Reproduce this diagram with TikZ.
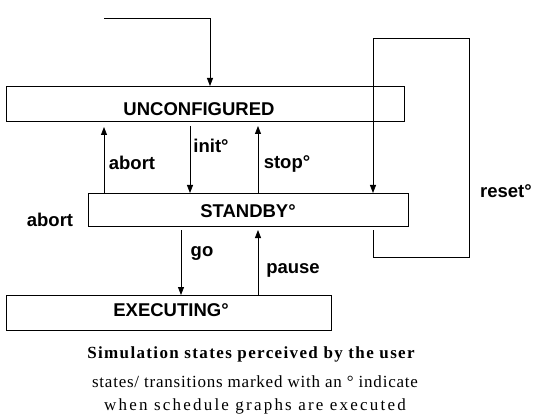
\documentclass[tikz,border=0pt]{standalone}
\usepackage{fontspec}
\setmainfont{Liberation Serif}
\setsansfont{Liberation Sans}
\usetikzlibrary{arrows.meta}
\begin{document}
\begin{tikzpicture}[x=1pt,y=-1pt,
  statebox/.style={draw, line width=0.8pt, inner sep=0pt, outer sep=0pt},
  lbl/.style={font=\sffamily\bfseries\fontsize{18.5}{22}\selectfont, anchor=base, inner sep=0pt},
  captxt/.style={font=\fontsize{17}{20}\selectfont\addfontfeatures{LetterSpace=4.5}, anchor=base, inner sep=0pt},
  arr/.style={line width=0.8pt, -{Triangle[width=6pt,length=8pt]}},
  ln/.style={line width=0.8pt}]
\useasboundingbox (0,0) rectangle (533,417);
% boxes
\node[statebox, minimum width=398pt, minimum height=35pt] (unc) at (205,103.5) {};
\node[statebox, minimum width=320pt, minimum height=33pt] (stb) at (248,209.5) {};
\node[statebox, minimum width=325pt, minimum height=35pt] (exe) at (168.5,312.5) {};
\node[lbl] (uncT) at (199,116) {UNCONFIGURED};
\node[lbl] (stbT) at (248,217) {STANDBY°};
\node[lbl] (exeT) at (171,316) {EXECUTING°};
% x positions
\coordinate (xa) at (104,0);
\coordinate (xi) at (190,0);
\coordinate (xs) at (258,0);
\coordinate (xg) at (181,0);
\coordinate (xp) at (258,0);
\coordinate (xr) at (373,0);
\coordinate (xt) at (210,0);
\coordinate (t0) at (104,18);
\coordinate (r1) at (373,257.6);
\coordinate (r2) at (469,257.6);
\coordinate (r3) at (469,38.4);
\coordinate (r4) at (373,38.4);
% entry
\draw[arr] (t0) -| (xt |- unc.north);
% transitions
\draw[arr, shorten >=6pt] (xa |- stb.north) -- (xa |- unc.south);
\draw[arr, shorten <=5pt] (xi |- unc.south) -- (xi |- stb.north);
\draw[arr, shorten >=5pt] (xs |- stb.north) -- (xs |- unc.south);
\draw[arr, shorten <=4pt] (xg |- stb.south) -- (xg |- exe.north);
\draw[arr, shorten >=4pt] (xp |- exe.north) -- (xp |- stb.south);
\draw[arr, shorten <=4pt] (xr |- stb.south) -- (r1) -- (r2) -- (r3) -- (r4) -- (xr |- stb.north);
% labels
\node[lbl] (lInit) at (211,153) {init°};
\node[lbl] (lAb1) at (132,170) {abort};
\node[lbl] (lStop) at (287,169) {stop°};
\node[lbl] (lReset) at (506,197) {reset°};
\node[lbl] (lAb2) at (50,226) {abort};
\node[lbl] (lGo) at (202,256) {go};
\node[lbl] (lPause) at (293,273) {pause};
% caption
\node[captxt, font=\bfseries\fontsize{17}{20}\selectfont\addfontfeatures{LetterSpace=8}] (cap1) at (251,358) {Simulation states perceived by the user};
\node[captxt] (cap2) at (255,387) {states/ transitions marked with an ° indicate};
\node[captxt, font=\fontsize{17}{20}\selectfont\addfontfeatures{LetterSpace=13}] (cap3) at (255,410) {when schedule graphs are executed};
\end{tikzpicture}
\end{document}
